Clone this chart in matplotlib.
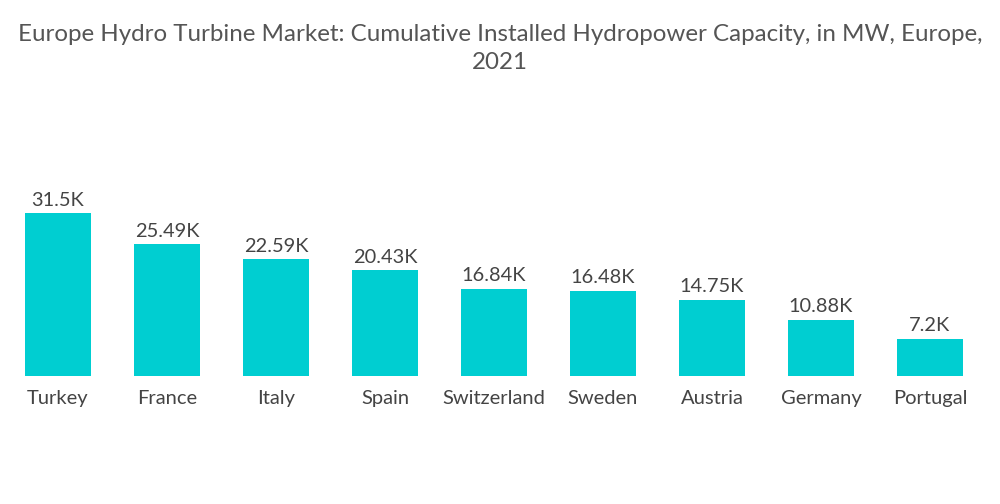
import matplotlib
matplotlib.use('Agg')
import matplotlib.pyplot as plt
import numpy as np

plt.rcParams['font.family'] = ['Lato', 'DejaVu Sans']

countries = ['Turkey', 'France', 'Italy', 'Spain', 'Switzerland', 'Sweden', 'Austria', 'Germany', 'Portugal']
capacity_k = [31.5, 25.49, 22.59, 20.43, 16.84, 16.48, 14.75, 10.88, 7.2]
labels = ['31.5K', '25.49K', '22.59K', '20.43K', '16.84K', '16.48K', '14.75K', '10.88K', '7.2K']

fig = plt.figure(figsize=(10, 5.04), dpi=100)
ax = fig.add_axes([0.0035, 0.254, 0.981, 0.448])
x = np.arange(len(countries))
ax.bar(x, capacity_k, width=0.606, color='#00CED1')
for xi, v, lab in zip(x, capacity_k, labels):
    ax.text(xi, v + 0.9, lab, ha='center', va='bottom', fontsize=14.4, color='#444444')
ax.set_xlim(-0.5, len(countries) - 0.5)
ax.set_ylim(0, 43.7)
ax.set_xticks(x)
ax.set_xticklabels(countries, fontsize=14.5, color='#444444')
ax.tick_params(axis='x', length=0, pad=10)
ax.set_yticks([])
for s in ax.spines.values():
    s.set_visible(False)

fig.text(0.5, 0.952, 'Europe Hydro Turbine Market: Cumulative Installed Hydropower Capacity, in MW, Europe,\n2021',
         ha='center', va='top', fontsize=17.4, color='#555555', linespacing=1.4)

fig.savefig('out.png', dpi=100)
